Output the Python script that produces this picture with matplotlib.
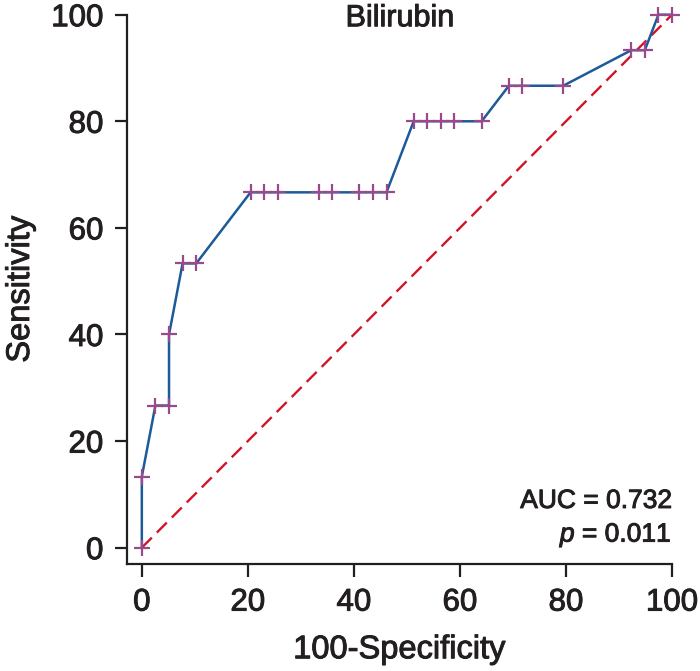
import numpy as np
from matplotlib import pyplot as plt
from matplotlib import patheffects as pe

plt.rcParams['font.family'] = ['Liberation Sans', 'DejaVu Sans']
plt.rcParams['mathtext.fontset'] = 'custom'
plt.rcParams['mathtext.it'] = 'Liberation Sans:italic'
plt.rcParams['mathtext.rm'] = 'Liberation Sans'

# ROC points (100-specificity, sensitivity)
fpr = [0, 0, 2.56, 5.13, 5.13, 7.69, 10.26, 20.51, 23.08, 25.64, 33.33, 35.90,
       41.03, 43.59, 46.15, 51.28, 53.85, 56.41, 58.97, 64.10, 69.23, 71.79,
       79.49, 92.31, 94.87, 97.44, 100]
tpr = [0, 13.33, 26.67, 26.67, 40.0, 53.33, 53.33, 66.67, 66.67, 66.67, 66.67, 66.67,
       66.67, 66.67, 66.67, 80.0, 80.0, 80.0, 80.0, 80.0, 86.67, 86.67,
       86.67, 93.33, 93.33, 100, 100]
ticks = [0, 20, 40, 60, 80, 100]
auc_txt = 'AUC = 0.732'
p_txt = '$p$ = 0.011'

ink = '#231f20'
bold = [pe.withStroke(linewidth=0.7, foreground=ink)]

fig = plt.figure(figsize=(7, 6.71), dpi=100)
ax = fig.add_axes((0.1814, 0.1595, 0.7786, 0.8186))

ax.plot([0, 100], [0, 100], ls=(0, (6, 3)), color='#d0152b', lw=1.7, zorder=1, clip_on=False)
ax.plot(fpr, tpr, color='#1d5a98', lw=1.8, zorder=2, clip_on=False)
ax.plot(fpr, tpr, ls='none', marker='+', ms=11, mew=1.6, color='#9a4a8b', zorder=3, clip_on=False)

ax.set_xlim(-2.8, 100)
ax.set_ylim(-3.06, 100)
ax.set_xticks(ticks)
ax.set_yticks(ticks)
for s in ['top', 'right']:
    ax.spines[s].set_visible(False)
for s in ['left', 'bottom']:
    ax.spines[s].set_linewidth(1.6)
    ax.spines[s].set_color(ink)
ax.tick_params(length=9, width=1.6, pad=8, labelsize=22.5, colors=ink)
for lab in ax.get_xticklabels() + ax.get_yticklabels():
    lab.set_path_effects(bold)

ax.set_xlabel('100-Specificity', fontsize=23.5, labelpad=12, color=ink, path_effects=bold)
ax.set_ylabel('Sensitivity', fontsize=23.5, labelpad=11, color=ink, path_effects=bold)

ax.text(0.5, 0.979, 'Bilirubin', transform=ax.transAxes, ha='center', va='baseline',
        fontsize=22, color=ink, path_effects=bold)
ax.text(100, 7.45, auc_txt, ha='right', va='baseline', fontsize=19, color=ink, path_effects=bold)
ax.text(100, 1.13, p_txt, ha='right', va='baseline', fontsize=19, color=ink, path_effects=bold)

plt.savefig('out.png', dpi=100)
